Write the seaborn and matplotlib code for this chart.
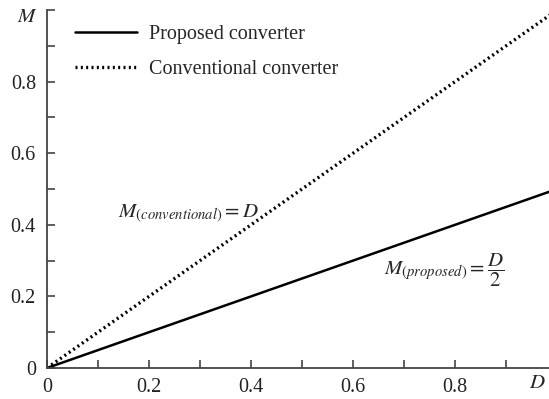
import numpy as np
import pandas as pd
import seaborn as sns
import matplotlib
matplotlib.use("Agg")
import matplotlib.pyplot as plt
from matplotlib.ticker import MultipleLocator, FixedLocator

# duty cycle and voltage gain
D = [0.0, 0.2, 0.4, 0.6, 0.8, 1.0]
M_proposed = [0.0, 0.1, 0.2, 0.3, 0.4, 0.5]
M_conventional = [0.0, 0.2, 0.4, 0.6, 0.8, 1.0]
xticks = [0, 0.2, 0.4, 0.6, 0.8]
xticklabels = ["0", "0.2", "0.4", "0.6", "0.8"]
yticks = [0, 0.2, 0.4, 0.6, 0.8]
yticklabels = ["0", "0.2", "0.4", "0.6", "0.8"]

sns.set_style("ticks")
plt.rcParams['font.family'] = ['Liberation Serif', 'DejaVu Serif']
plt.rcParams['mathtext.fontset'] = 'stix'

df = pd.DataFrame({"D": D, "prop": M_proposed, "conv": M_conventional})

fig = plt.figure(figsize=(5.49, 3.99), dpi=100)
ax = fig.add_axes([0.0856, 0.0777, 0.9144, 0.8973])

sns.lineplot(data=df, x="D", y="prop", ax=ax, color="black", linewidth=1.8,
             label="Proposed converter")
sns.lineplot(data=df, x="D", y="conv", ax=ax, color="black", linewidth=2.4,
             linestyle=(0, (0.6, 1.0)), label="Conventional converter")

ax.set_xlim(0, 0.984)
ax.set_ylim(0, 1.0)
ax.set_xlabel("")
ax.set_ylabel("")

ax.xaxis.set_major_locator(FixedLocator(xticks))
ax.set_xticklabels(xticklabels)
ax.yaxis.set_major_locator(FixedLocator(yticks))
ax.set_yticklabels(yticklabels)
ax.xaxis.set_minor_locator(MultipleLocator(0.1))
ax.yaxis.set_minor_locator(MultipleLocator(0.1))
ax.tick_params(which="both", direction="in", length=6, width=1.2, color="#444444",
               labelsize=14.5, colors="#222222")
ax.tick_params(axis="x", pad=7)
ax.tick_params(axis="y", pad=8)

for s in ["top", "right"]:
    ax.spines[s].set_visible(False)
for s in ["left", "bottom"]:
    ax.spines[s].set_linewidth(1.3)
    ax.spines[s].set_color("#444444")

# axis names placed like the original
fig.text(27 / 549, 1 - 18 / 399, "$M$", ha="center", va="center", fontsize=15)
fig.text(537 / 549, 1 - 384 / 399, "$D$", ha="center", va="center", fontsize=15)

ax.text(0.139, 0.43, r"$M_{(conventional)} = D$", ha="left", va="center", fontsize=15)
ax.text(0.66, 0.272, r"$M_{(proposed)} = \dfrac{D}{2}$", ha="left", va="center",
        fontsize=15)

leg = ax.legend(loc="upper left", bbox_to_anchor=(75 / 549, 1 - 25 / 399),
                bbox_transform=fig.transFigure, frameon=False, borderpad=0,
                borderaxespad=0, fontsize=14.5, handlelength=3.1,
                handletextpad=0.55, labelspacing=0.8)

fig.savefig("out.png", dpi=100)
